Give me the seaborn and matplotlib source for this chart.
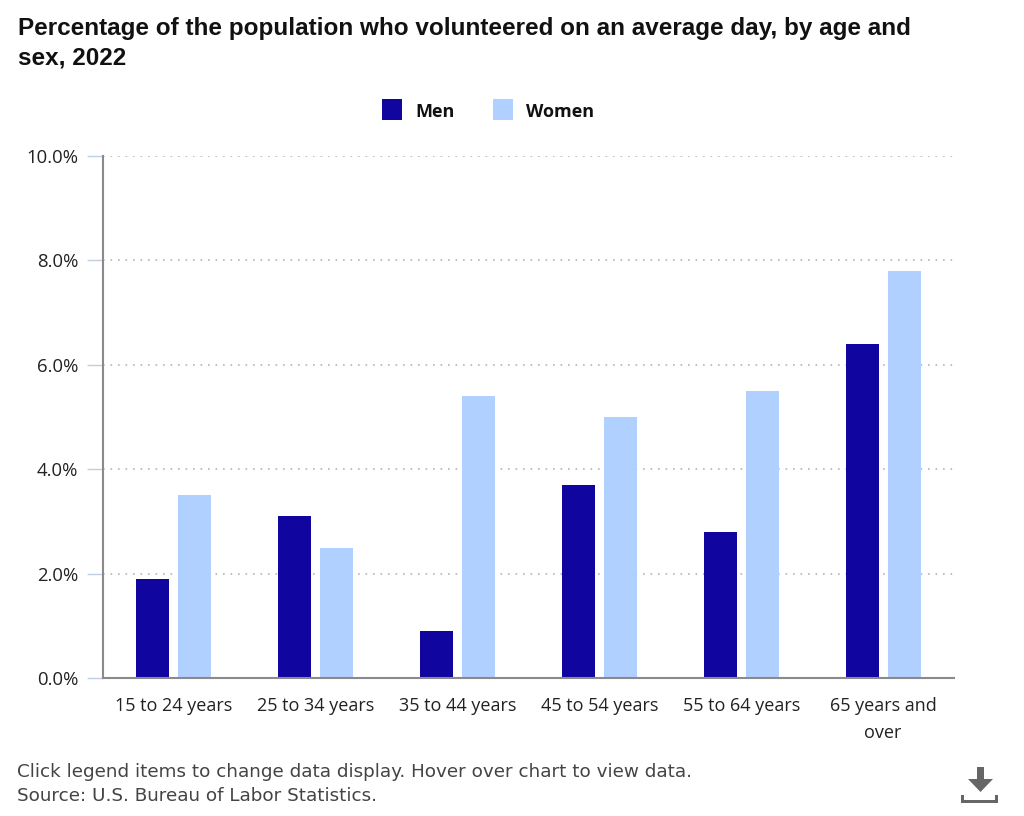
import matplotlib
matplotlib.use("Agg")
import matplotlib.pyplot as plt
import pandas as pd
import seaborn as sns

# values
ages = ["15 to 24 years", "25 to 34 years", "35 to 44 years", "45 to 54 years", "55 to 64 years", "65 years and\nover"]
men = [1.9, 3.1, 0.9, 3.7, 2.8, 6.4]
women = [3.5, 2.5, 5.4, 5.0, 5.5, 7.8]
y_ticks = [0, 2, 4, 6, 8, 10]

df = pd.DataFrame({"age": ages, "Men": men, "Women": women})
df = df.melt(id_vars="age", var_name="sex", value_name="pct")

sns.set_style("white")
plt.rcParams["font.family"] = ["Open Sans", "DejaVu Sans"]

W, H = 1024, 816
fig = plt.figure(figsize=(W / 100, H / 100), dpi=100)
ax = fig.add_axes([103 / W, 1 - 678 / H, (954 - 103) / W, (678 - 156) / H])

sns.barplot(data=df, x="age", y="pct", hue="sex", palette={"Men": "#10069f", "Women": "#b0d0ff"},
            gap=0.214, width=0.592, saturation=1, linewidth=0, legend=False, ax=ax, zorder=3)

ax.set_xlim(-0.5, 5.5)
ax.set_ylim(0, 10)
ax.set_yticks(y_ticks)
ax.set_yticklabels(["%.1f%%" % t for t in y_ticks], fontsize=13.3, color="#222222")
ax.set_xlabel("")
ax.set_ylabel("")
ax.tick_params(axis="x", length=0, pad=14, labelsize=13, labelcolor="#222222")
ax.tick_params(axis="y", left=True, length=11.5, width=1, color="#c0d0e0", pad=6.5)
for lab in ax.get_xticklabels():
    lab.set_linespacing(1.6)
ax.grid(axis="y", color="#b5b5b5", linestyle=(0, (1, 3.5)), linewidth=1.2, zorder=0)
ax.grid(axis="x", visible=False)
sns.despine(ax=ax, top=True, right=True)
ax.spines["left"].set_color("#8a8a8a")
ax.spines["left"].set_linewidth(1.5)
ax.spines["bottom"].set_color("#8a8a8a")
ax.spines["bottom"].set_linewidth(1.5)
ax.spines["bottom"].set_zorder(5)

# title
fig.text(18 / W, 1 - 28 / H, "Percentage of the population who volunteered on an average day, by age and",
         fontsize=17.45, fontweight="bold", family=["Liberation Sans"], va="center", color="#111111")
fig.text(18 / W, 1 - 58 / H, "sex, 2022",
         fontsize=17.45, fontweight="bold", family=["Liberation Sans"], va="center", color="#111111")

# legend
for x0, name, col in [(382, "Men", "#10069f"), (493, "Women", "#b0d0ff")]:
    fig.add_artist(plt.Rectangle((x0 / W, 1 - 120 / H), 20 / W, 21 / H, transform=fig.transFigure,
                                 facecolor=col, edgecolor="none"))
    fig.text((x0 + 33) / W, 1 - 112 / H, name, fontsize=13, fontweight="bold", va="center", color="#111111")

# footer
fig.text(17 / W, 1 - 772 / H, "Click legend items to change data display. Hover over chart to view data.",
         fontsize=13.25, va="center", color="#444444", family=["DejaVu Sans"])
fig.text(17 / W, 1 - 796 / H, "Source: U.S. Bureau of Labor Statistics.",
         fontsize=13.25, va="center", color="#444444", family=["DejaVu Sans"])

# download icon, pixel outline of the button
arrow = [(977, 767), (984, 767), (984, 779), (993, 779), (980.5, 792), (968, 779), (977, 779)]
tray = [(961, 795), (964, 795), (964, 800), (995, 800), (995, 795), (998, 795), (998, 803), (961, 803)]
for shape in (arrow, tray):
    fig.add_artist(plt.Polygon([(x / W, 1 - y / H) for x, y in shape], transform=fig.transFigure,
                               facecolor="#666666", edgecolor="none"))

fig.savefig("out.png", dpi=100)
